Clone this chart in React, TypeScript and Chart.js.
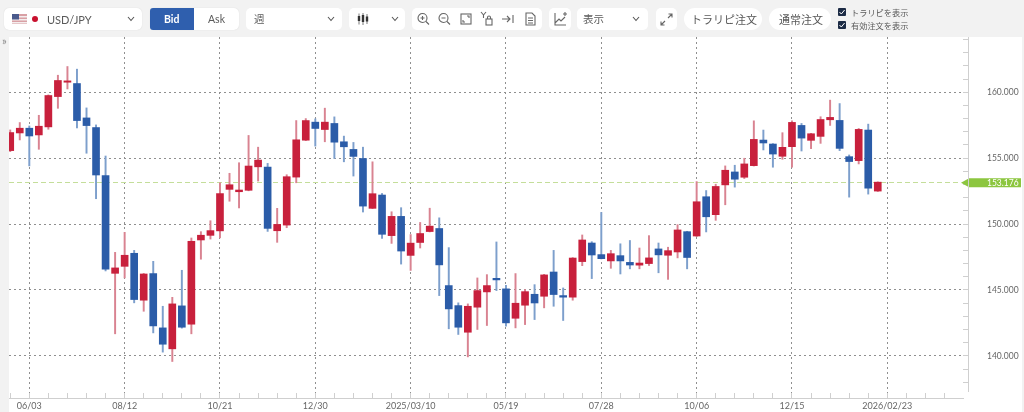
import React, { useEffect, useRef } from "react";
import { Chart, registerables } from "chart.js";

Chart.register(...registerables);

const tickLabels = ["06/03", "08/12", "10/21", "12/30", "2025/03/10", "05/19", "07/28", "10/06", "12/15", "2026/02/23"];
const opens = [155.57,156.91,157.27,156.76,157.37,159.67,160.76,160.66,158.05,157.32,153.67,146.26,146.79,147.78,144.22,146.24,142.12,140.53,143.79,142.40,148.79,149.14,149.48,152.63,152.45,152.56,154.34,154.32,149.49,149.92,153.56,156.36,157.73,157.17,157.63,156.24,155.66,154.97,151.19,152.20,149.12,150.58,147.62,148.60,149.43,149.66,145.33,143.81,141.79,143.69,144.85,145.88,145.08,142.85,143.84,144.67,144.52,146.36,144.57,144.45,147.15,148.56,147.68,147.20,147.60,147.09,146.88,147.00,148.11,147.63,147.88,149.42,149.09,152.07,150.71,152.97,153.95,153.55,154.43,156.37,156.07,155.14,155.87,157.48,156.35,156.65,157.91,157.86,155.11,154.81,157.13,152.50];
const closes = [156.94,157.27,156.68,157.42,159.75,160.89,160.86,157.85,157.47,153.72,146.57,146.67,147.63,144.27,146.21,142.27,140.88,143.94,142.17,148.69,149.15,149.50,152.31,152.98,152.58,154.40,154.85,149.67,149.97,153.59,156.39,157.85,157.25,157.73,156.21,155.86,155.13,151.36,152.30,149.22,150.58,147.95,148.55,149.28,149.84,146.90,143.56,142.17,143.76,144.95,145.33,145.76,142.50,143.99,144.87,144.01,146.14,144.65,144.45,147.42,148.79,147.65,147.37,147.75,147.20,146.89,147.04,147.43,147.66,147.98,149.55,147.46,151.69,150.55,152.85,154.08,153.40,154.56,156.42,156.15,155.31,155.82,157.71,156.52,156.85,157.93,158.09,155.74,154.74,157.18,152.72,153.176];
const highs = [157.14,157.70,157.44,158.25,159.80,161.29,161.95,161.75,158.81,157.52,155.16,147.85,149.37,148.00,146.25,147.17,143.76,144.44,146.49,148.94,149.42,150.25,153.13,153.85,154.65,156.72,155.83,154.60,151.19,153.74,157.85,158.00,157.98,158.79,158.13,156.67,156.19,155.83,154.72,152.32,150.93,151.24,149.20,150.12,151.20,150.47,148.21,144.02,143.94,145.91,146.16,148.64,145.35,146.24,145.03,145.40,146.18,148.00,145.15,147.45,149.17,148.66,150.88,148.00,148.50,148.75,148.18,149.12,148.56,148.24,149.95,149.45,153.22,152.54,153.02,154.41,154.46,154.99,157.83,157.13,156.10,156.93,157.83,157.63,156.88,158.14,159.40,159.14,155.24,157.25,157.58,153.20];
const lows = [155.49,156.38,154.41,155.67,157.19,158.78,160.25,157.29,155.37,151.92,146.44,141.67,145.91,144.02,143.38,141.74,140.28,139.57,142.10,141.67,147.33,148.86,148.95,151.73,151.22,152.52,153.26,149.44,148.61,149.72,153.13,156.33,155.91,156.24,154.97,154.72,153.64,150.91,151.17,148.91,148.53,146.96,146.48,148.18,149.40,144.57,142.05,141.62,139.92,142.00,142.30,144.95,142.25,142.12,142.37,142.75,143.64,143.76,142.68,144.22,146.84,145.86,147.35,146.64,146.21,146.60,146.60,146.85,146.30,145.80,147.43,146.60,149.05,149.40,150.28,151.46,152.80,153.45,154.40,155.62,154.31,154.91,154.31,155.54,155.72,156.12,157.48,155.57,152.04,154.56,152.27,152.47];
const currentPrice = 153.176;
const priceLabel = "153.176";

const weekIndex = opens.map((_, i) => i);
const evenWeeks = Array.from({ length: 50 }, (_, i) => i * 2);
const labelledWeekOffset = 2;
const priceTicks = Array.from({ length: 27 }, (_, i) => 138 + i);

const RED = "#c8203c";
const BLUE = "#2b5ca8";
const RED_WICK = "#d98391";
const BLUE_WICK = "#7d9fcc";
const LABEL = "#666666";
const GRID = "#8f8f8f";
const AXIS = "#cfcfcf";
const FONT = "Lato, 'Noto Sans CJK JP', sans-serif";
const JP = "'Noto Sans CJK JP', sans-serif";

const decor = {
  id: "decor",
  beforeDatasetsDraw(chart: any) {
    const { ctx, scales, chartArea } = chart;
    const y = scales.y.getPixelForValue(currentPrice);
    ctx.save();
    ctx.strokeStyle = "#c4de9a";
    ctx.setLineDash([5, 3]);
    ctx.lineWidth = 1;
    ctx.beginPath();
    ctx.moveTo(chartArea.left, Math.round(y) + 0.5);
    ctx.lineTo(961, Math.round(y) + 0.5);
    ctx.stroke();
    ctx.restore();
  },
  afterDatasetsDraw(chart: any) {
    const { ctx, scales } = chart;
    const y = scales.y.getPixelForValue(currentPrice);
    ctx.save();
    ctx.fillStyle = "#8cc63f";
    ctx.beginPath();
    ctx.moveTo(961, y + 0.5);
    ctx.lineTo(969, y - 4);
    ctx.lineTo(1021, y - 4);
    ctx.lineTo(1021, y + 5);
    ctx.lineTo(969, y + 5);
    ctx.closePath();
    ctx.fill();
    ctx.fillStyle = "#ffffff";
    ctx.font = `8.5px ${FONT}`;
    ctx.textBaseline = "middle";
    ctx.fillText(priceLabel, 987, y + 1);
    ctx.strokeStyle = AXIS;
    ctx.lineWidth = 1;
    ctx.beginPath();
    ctx.moveTo(968.5, 37);
    ctx.lineTo(968.5, 392);
    ctx.stroke();
    ctx.restore();
  },
};

function Chevron({ x }: { x: number }) {
  return (
    <svg style={{ position: "absolute", left: x, top: 16, width: 8, height: 6 }} viewBox="0 0 8 6">
      <path d="M1 1 L4 4.5 L7 1" fill="none" stroke="#555" strokeWidth="1.1" />
    </svg>
  );
}

function Box({ x, w, y = 8, h = 22, r = 5, children, style }: any) {
  return (
    <div style={{ position: "absolute", left: x, top: y, width: w, height: h, background: "#fff", borderRadius: r, ...style }}>
      {children}
    </div>
  );
}

function Txt({ x, y = 19, size = 11, color = "#5a5a5a", font = FONT, weight = 400, children }: any) {
  return (
    <span style={{ position: "absolute", left: x, top: y, transform: "translateY(-50%)", fontSize: size, color, fontFamily: font, fontWeight: weight, whiteSpace: "nowrap", lineHeight: 1 }}>
      {children}
    </span>
  );
}

function Icon({ x, children }: any) {
  return (
    <svg style={{ position: "absolute", left: x - 7, top: 11, width: 14, height: 16 }} viewBox="0 0 14 16" fill="none" stroke="#666" strokeWidth="1.1">
      {children}
    </svg>
  );
}

function Check({ y, label }: any) {
  return (
    <>
      <div style={{ position: "absolute", left: 838, top: y - 4, width: 8, height: 8, background: "#1c2b45", borderRadius: 1 }}>
        <svg viewBox="0 0 8 8" style={{ display: "block" }}>
          <path d="M1.5 4 L3.3 6 L6.6 2" fill="none" stroke="#fff" strokeWidth="1" />
        </svg>
      </div>
      <Txt x={851} y={y} size={8.2} font={JP}>{label}</Txt>
    </>
  );
}

function Toolbar() {
  return (
    <>
      <Box x={4} w={138} style={{ boxShadow: "0 0 1px #ccc" }} />
      <svg style={{ position: "absolute", left: 12, top: 14, width: 15, height: 10 }} viewBox="0 0 15 10">
        <rect width="15" height="10" fill="#d9a0a5" />
        <rect y="2" width="15" height="1.5" fill="#f4eeee" />
        <rect y="5" width="15" height="1.5" fill="#f4eeee" />
        <rect y="8" width="15" height="1.5" fill="#f4eeee" />
        <rect width="7" height="5.5" fill="#4a5a8c" />
      </svg>
      <div style={{ position: "absolute", left: 32, top: 16, width: 6, height: 6, borderRadius: 3, background: "#c8102e" }} />
      <Txt x={47}>USD/JPY</Txt>
      <Chevron x={127} />

      <Box x={150} w={89} style={{ boxShadow: "0 0 1px #ccc" }} />
      <div style={{ position: "absolute", left: 150, top: 8, width: 44, height: 22, background: "#2f5fae", borderRadius: "3px 0 0 3px" }} />
      <Txt x={164} color="#fff" weight={700} size={10.5}>Bid</Txt>
      <Txt x={208} size={10.5}>Ask</Txt>

      <Box x={246} w={96} />
      <Txt x={254} font={JP} size={10.5}>週</Txt>
      <Chevron x={327} />

      <Box x={349} w={56} />
      <svg style={{ position: "absolute", left: 357, top: 13, width: 12, height: 12 }} viewBox="0 0 12 12">
        <path d="M2 0.5V11.5M6 0V12M10 1V11" stroke="#555" strokeWidth="0.8" />
        <rect x="0.8" y="3" width="2.4" height="5" fill="#333" />
        <rect x="4.8" y="2" width="2.4" height="7" fill="#333" />
        <rect x="8.8" y="3.5" width="2.4" height="5" fill="#333" />
      </svg>
      <Chevron x={391} />

      <Box x={412} w={130} />
      <Icon x={423}>
        <circle cx="6.5" cy="7" r="4.5" />
        <path d="M10 10.5L13 13.5M4.5 7H8.5M6.5 5V9" />
      </Icon>
      <Icon x={444}>
        <circle cx="6.5" cy="7" r="4.5" />
        <path d="M10 10.5L13 13.5M4.5 7H8.5" />
      </Icon>
      <Icon x={466}>
        <rect x="2" y="3" width="10" height="10" />
        <path d="M4 9V11H6M10 7V5H8" />
      </Icon>
      <Icon x={487}>
        <path d="M1 1L3.5 4L6 1M3.5 4V7" />
        <rect x="6" y="8" width="6" height="6" />
        <path d="M7.5 8V6.5A1.5 1.5 0 0 1 10.5 6.5V8" />
      </Icon>
      <Icon x={508}>
        <path d="M1 8H9M6 5L9 8L6 11M12 4V12" />
      </Icon>
      <Icon x={530}>
        <path d="M3 2H9L12 5V14H3ZM5 7H10M5 9.5H10M5 12H10" />
      </Icon>

      <Box x={549} w={22} />
      <Icon x={560}>
        <path d="M2 2V14H13M2 12L6 8L8 10L12 6M10 3H14M12 1V5" />
      </Icon>

      <Box x={577} w={71} />
      <Txt x={583} font={JP} size={10.5}>表示</Txt>
      <Chevron x={632} />

      <Box x={656} w={21} />
      <Icon x={666}>
        <path d="M2 14L6 10M2 10.5V14H5.5M13 3L9 7M9.5 3H13V6.5" />
      </Icon>

      <Box x={684} w={78} r={11} />
      <Txt x={691} font={JP} size={11}>トラリピ注文</Txt>
      <Box x={769} w={62} r={11} />
      <Txt x={779} font={JP} size={11}>通常注文</Txt>

      <Check y={12} label="トラリピを表示" />
      <Check y={25} label="有効注文を表示" />

      <span style={{ position: "absolute", left: 2, top: 35, fontSize: 11, color: "#888", fontFamily: FONT, lineHeight: 1 }}>»</span>
    </>
  );
}

export default function App() {
  const ref = useRef<HTMLCanvasElement | null>(null);

  useEffect(() => {
    document.body.style.margin = "0";
    document.body.style.background = "#f2f2f2";
    const isUp = (i: number) => closes[i] >= opens[i];
    const chart = new Chart(ref.current!, {
      type: "bar",
      data: {
        datasets: [
          {
            label: "wick",
            order: 2,
            grouped: false,
            barThickness: 1.3,
            data: weekIndex.map((i) => ({ x: i, y: [lows[i], highs[i]] })),
            backgroundColor: weekIndex.map((i) => (isUp(i) ? RED_WICK : BLUE_WICK)),
          },
          {
            label: "body",
            order: 1,
            grouped: false,
            barThickness: 7,
            data: weekIndex.map((i) => ({ x: i, y: [opens[i], closes[i]] })),
            backgroundColor: weekIndex.map((i) => (isUp(i) ? RED : BLUE)),
          },
        ],
      } as any,
      plugins: [decor],
      options: {
        animation: false,
        responsive: false,
        events: [],
        layout: { autoPadding: false, padding: { left: 9, top: 37, right: 0, bottom: 0 } },
        plugins: { legend: { display: false }, tooltip: { enabled: false } },
        scales: {
          x: {
            type: "linear",
            offset: false,
            min: -0.13,
            max: 99.94,
            afterBuildTicks: (s: any) => {
              s.ticks = evenWeeks.map((value) => ({ value }));
            },
            afterFit: (s: any) => {
              s.height = 14;
              s.paddingLeft = 0;
              s.paddingRight = 0;
            },
            grid: {
              offset: false,
              drawTicks: true,
              tickLength: -5,
              tickColor: AXIS,
              color: (c: any) => ((c.tick?.value - labelledWeekOffset) % 10 === 0 ? GRID : "rgba(0,0,0,0)"),
            },
            border: { display: true, color: AXIS, dash: [2, 3] },
            ticks: {
              autoSkip: false,
              maxRotation: 0,
              padding: 8,
              color: LABEL,
              font: { family: FONT, size: 9 },
              callback: (v: any) => {
                const k = (Number(v) - labelledWeekOffset) / 10;
                return Number.isInteger(k) && tickLabels[k] ? tickLabels[k] : "";
              },
            },
          },
          y: {
            position: "right",
            min: 136.8,
            max: 164.19,
            afterBuildTicks: (s: any) => {
              s.ticks = priceTicks.map((value) => ({ value }));
            },
            afterFit: (s: any) => {
              s.width = 1024 - 963;
              s.paddingTop = 0;
              s.paddingBottom = 0;
            },
            grid: {
              drawTicks: true,
              tickLength: 5,
              tickColor: AXIS,
              color: (c: any) => (c.tick?.value % 5 === 0 ? GRID : "rgba(0,0,0,0)"),
            },
            border: { display: false, dash: [2, 3] },
            ticks: {
              autoSkip: false,
              padding: 19,
              color: LABEL,
              font: { family: FONT, size: 8.5 },
              callback: (v: any) => (Number(v) % 5 === 0 ? Number(v).toFixed(3) : ""),
            },
          },
        },
      } as any,
    });
    return () => chart.destroy();
  }, []);

  return (
    <div style={{ position: "relative", width: 1024, height: 412, overflow: "hidden", background: "#f2f2f2" }}>
      <div style={{ position: "absolute", left: 9, top: 37, width: 1013, height: 375, background: "#fff" }} />
      <canvas ref={ref} width={1024} height={412} style={{ position: "absolute", left: 0, top: 0, width: 1024, height: 412 }} />
      <Toolbar />
    </div>
  );
}
